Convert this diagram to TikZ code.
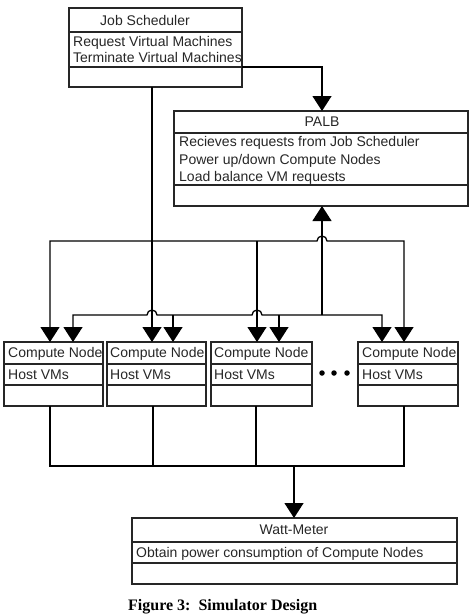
\documentclass[tikz,border=0pt]{standalone}
\usepackage{fontspec}
\setmainfont{Liberation Sans}
\newfontfamily\capfont{Liberation Serif}
\usetikzlibrary{arrows.meta,fit}
\tikzset{
  boxline/.style={draw=black!85, line width=1.3pt},
  umlbox/.style={boxline, rectangle, inner sep=0pt, outer sep=0pt},
  txt/.style={inner sep=0pt, font=\fontsize{14}{16}\selectfont, text=black!85},
  wire/.style={draw=black, line width=1.3pt},
  conn/.style={wire, -{Triangle[width=19pt,length=15pt]}},
  biconn/.style={wire, {Triangle[width=19pt,length=15pt]}-{Triangle[width=19pt,length=15pt]}},
  dot/.style={circle, fill=black, inner sep=0pt, minimum size=5.5pt},
}
\newcommand\myumlbox[7]{%
  \coordinate (#1-nw) at (#2,#3);
  \coordinate (#1-se) at (#4,#5);
  \node[umlbox, fit=(#1-nw)(#1-se)] (#1) {};
  \draw[boxline] (#1.west |- 0,#6) -- (#1.east |- 0,#6);
  \draw[boxline] (#1.west |- 0,#7) -- (#1.east |- 0,#7);
}
\begin{document}
\begin{tikzpicture}[x=1pt,y=-1pt]
\useasboundingbox (0,0) rectangle (472,616);
% boxes
\myumlbox{js}{69}{8}{242}{87}{32}{67}
\myumlbox{palb}{174}{111}{468}{206}{133}{185}
\myumlbox{cna}{4}{342}{103}{406}{364}{385}
\myumlbox{cnb}{107}{342}{206}{406}{364}{385}
\myumlbox{cnc}{211}{342}{312}{406}{364}{385}
\myumlbox{cnd}{358}{342}{458}{406}{364}{385}
\myumlbox{wm}{132}{518}{457}{584}{542}{563}
% texts
\node[txt, anchor=base] (jst) at (145,25) {Job Scheduler};
\node[txt, anchor=base west] (jsa) at (73,46) {Request Virtual Machines};
\node[txt, anchor=base west] (jsb) at (73,62) {Terminate Virtual Machines};
\node[txt, anchor=base] (palbt) at (322,126) {PALB};
\node[txt, anchor=base west] (palba) at (179,146) {Recieves requests from Job Scheduler};
\node[txt, anchor=base west] (palbb) at (179,164) {Power up/down Compute Nodes};
\node[txt, anchor=base west] (palbc) at (179,181) {Load balance VM requests};
\node[txt, anchor=base west] (cnat) at (8,357) {Compute Node};
\node[txt, anchor=base west] (cnah) at (8,379) {Host VMs};
\node[txt, anchor=base west] (cnbt) at (110,357) {Compute Node};
\node[txt, anchor=base west] (cnbh) at (110,379) {Host VMs};
\node[txt, anchor=base west] (cnct) at (214,357) {Compute Node};
\node[txt, anchor=base west] (cnch) at (214,379) {Host VMs};
\node[txt, anchor=base west] (cndt) at (362,357) {Compute Node};
\node[txt, anchor=base west] (cndh) at (362,379) {Host VMs};
\node[txt, anchor=base] (wmt) at (294,534) {Watt-Meter};
\node[txt, anchor=base west] (wma) at (136,557) {Obtain power consumption of Compute Nodes};
% ellipsis dots
\node[dot] (d1) at (322,373) {};
\node[dot] (d2) at (334,373) {};
\node[dot] (d3) at (347,373) {};
% junction coordinates
\coordinate (upj) at (257,241);
\coordinate (lowj) at (322,315);
\coordinate (lowb) at (173,315);
\coordinate (lowc) at (279,315);
\coordinate (botj) at (294,466);
% Job Scheduler -> PALB
\draw[conn] (js.east |- 0,67) -| (palb.north -| 322,0);
% Job Scheduler -> compute node 2
\draw[conn] (js.south -| 152,0) -- (cnb.north -| 152,0);
% upper bus
\draw[biconn] (cna.north -| 50,0) -- (50,241) -- (317,241)
  arc[start angle=180, end angle=360, radius=5] -- (404,241) -- (cnd.north -| 404,0);
\draw[conn] (upj) -- (cnc.north -| 257,0);
% lower bus
\draw[biconn] (cna.north -| 73,0) -- (73,315) -- (147,315)
  arc[start angle=180, end angle=360, radius=5] -- (252,315)
  arc[start angle=180, end angle=360, radius=5] -- (382,315) -- (cnd.north -| 382,0);
\draw[conn] (lowb) -- (cnb.north -| 173,0);
\draw[conn] (lowc) -- (cnc.north -| 279,0);
\draw[conn] (lowj) -- (palb.south -| 322,0);
% bottom bus to Watt-Meter
\draw[wire] (cna.south -| 50,0) -- (50,466) -- (404,466) -- (cnd.south -| 404,0);
\draw[wire] (cnb.south -| 153,0) -- (153,466);
\draw[wire] (cnc.south -| 256,0) -- (256,466);
\draw[conn] (botj) -- (wm.north -| 294,0);
% caption
\node[inner sep=0pt, anchor=base west, font=\capfont\bfseries\fontsize{16}{18}\selectfont] (cap) at (128,610) {Figure 3:\ \ Simulator Design};
\end{tikzpicture}
\end{document}
